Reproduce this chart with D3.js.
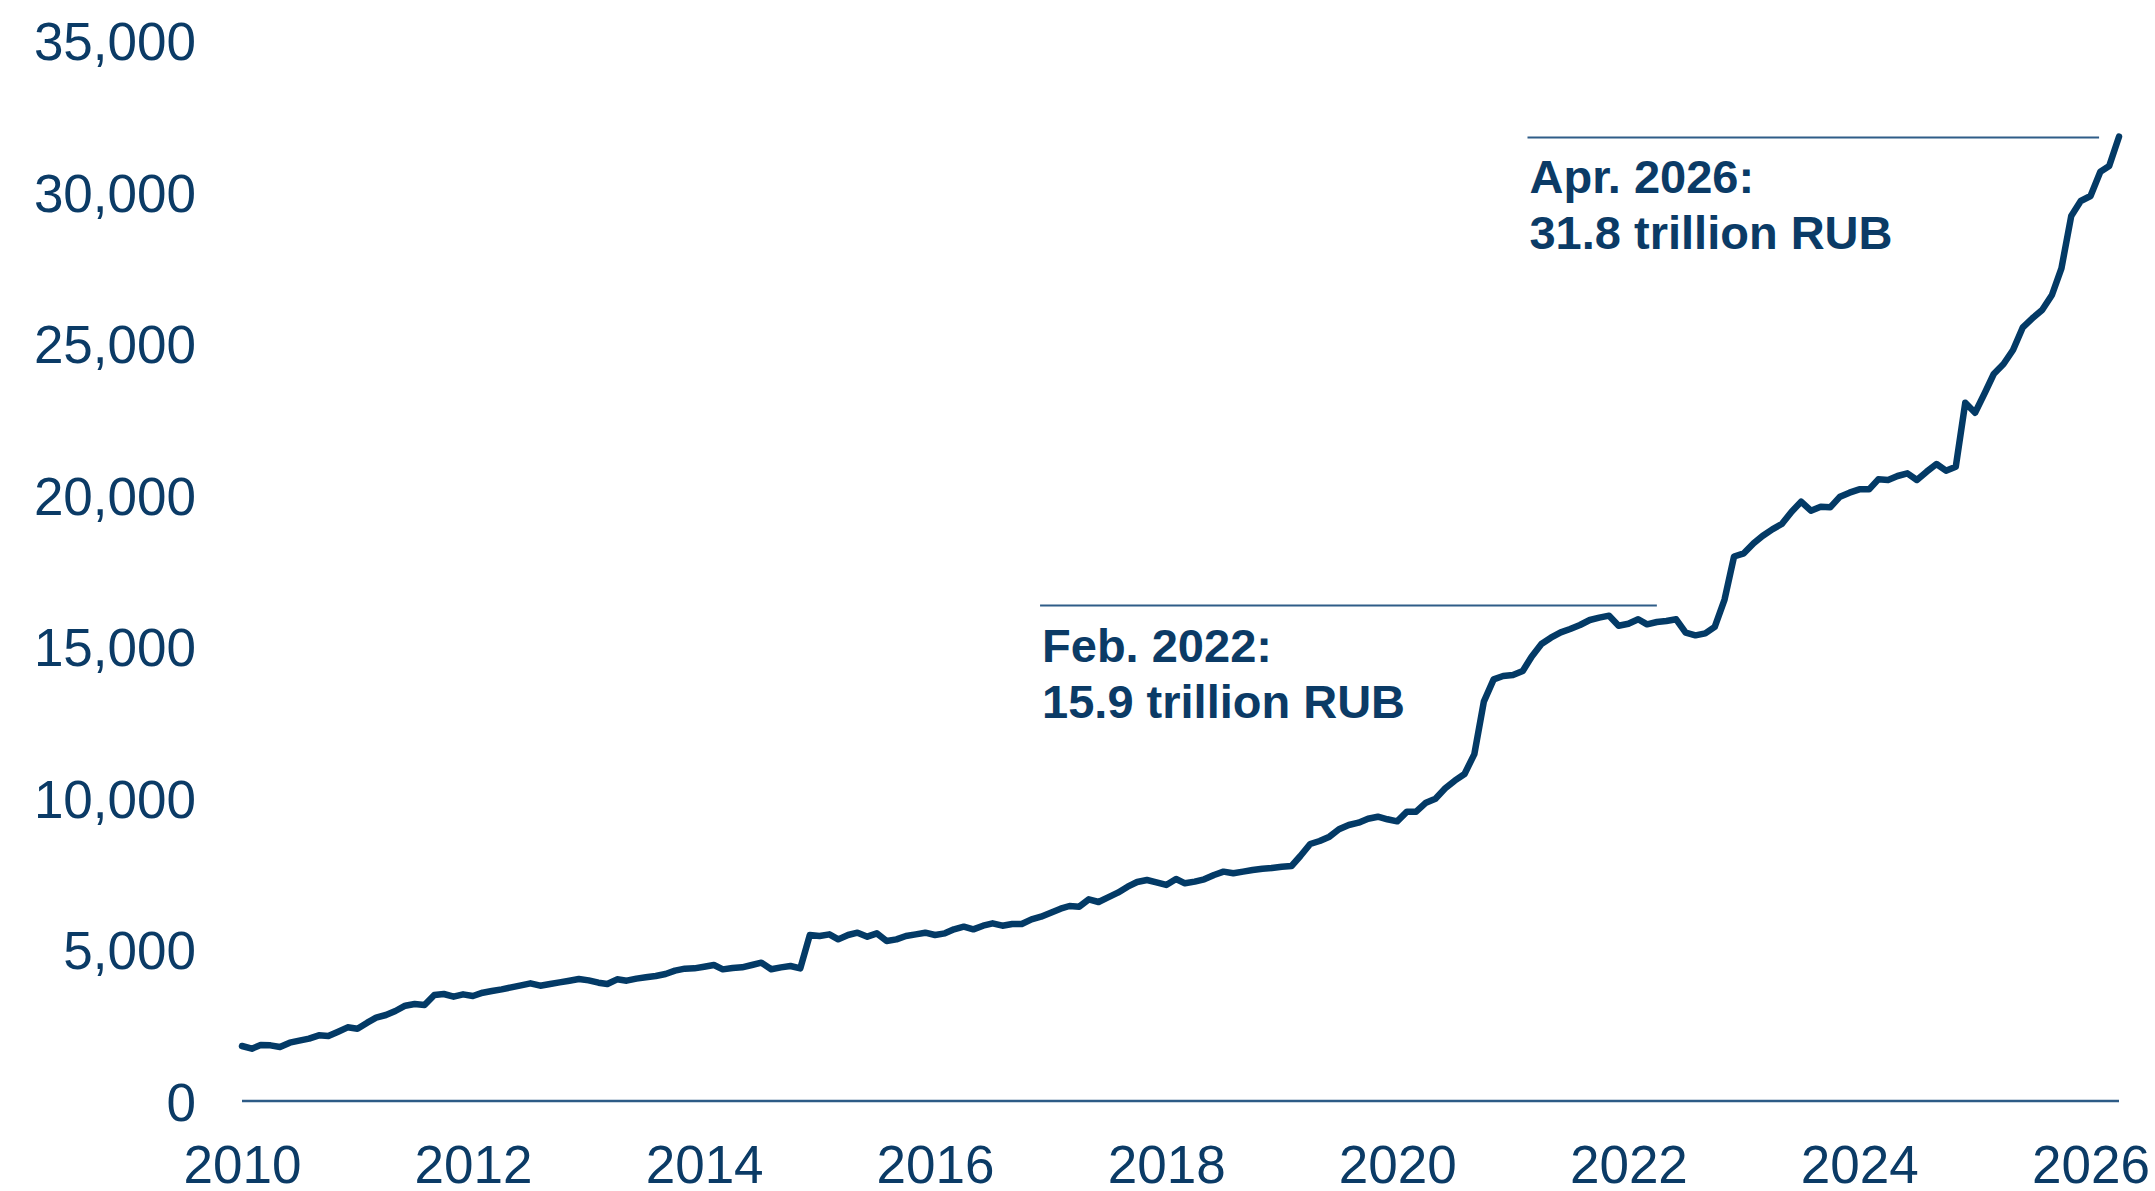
<!DOCTYPE html>
<html>
<head>
<meta charset="utf-8">
<script src="https://cdn.jsdelivr.net/npm/d3@7"></script>
<style>
  html, body { margin: 0; padding: 0; background: #fff; }
  svg { display: block; }
  .tick text { font-family: "Liberation Sans", Arial, sans-serif; font-size: 53px; fill: #0b3b66; }
  .note { font-family: "Liberation Sans", Arial, sans-serif; font-size: 47px; font-weight: bold; fill: #0b3b66; }
</style>
</head>
<body>
<script>
// monthly series, Jan 2010 .. Apr 2026 (billion RUB)
const startYear = 2010;
const values = [
  1815, 1727, 1848, 1837, 1782, 1925, 1991, 2057, 2167, 2145, 2288, 2431,   // 2010
  2387, 2585, 2750, 2838, 2970, 3146, 3201, 3168, 3498, 3531, 3443, 3520,   // 2011
  3465, 3575, 3630, 3685, 3751, 3817, 3883, 3806, 3861, 3916, 3971, 4026,   // 2012
  3980, 3905, 3861, 4016, 3971, 4038, 4082, 4125, 4191, 4301, 4367, 4378,   // 2013
  4433, 4488, 4345, 4389, 4411, 4488, 4565, 4350, 4411, 4455, 4378, 5478,   // 2014
  5445, 5500, 5335, 5478, 5555, 5423, 5533, 5280, 5335, 5445, 5500, 5555,   // 2015
  5478, 5533, 5665, 5753, 5665, 5786, 5863, 5786, 5841, 5841, 5995, 6083,   // 2016
  6215, 6347, 6436, 6413, 6656, 6568, 6722, 6876, 7073, 7228, 7294, 7218,   // 2017
  7129, 7327, 7184, 7239, 7316, 7459, 7569, 7514, 7569, 7624, 7667, 7690,   // 2018
  7733, 7756, 8086, 8482, 8581, 8724, 8967, 9109, 9185, 9317, 9383, 9297,   // 2019
  9230, 9549, 9549, 9846, 9978, 10319, 10572, 10792, 11450, 13179, 13916, 14026, // 2020
  14059, 14191, 14664, 15082, 15291, 15468, 15578, 15710, 15875, 15951, 16017, 15686, // 2021
  15752, 15900, 15732, 15808, 15841, 15897, 15456, 15369, 15435, 15650, 16550, 17970, // 2022
  18075, 18405, 18647, 18867, 19043, 19450, 19780, 19483, 19615, 19593, 19945, 20077, // 2023
  20187, 20187, 20517, 20495, 20627, 20715, 20495, 20770, 21023, 20803, 20935, 23046, // 2024
  22716, 23376, 23993, 24323, 24785, 25534, 25831, 26106, 26601, 27481, 29208, 29703, // 2025
  29868, 30671, 30858, 31825                                                   // 2026
];

const yTicks = [0, 5000, 10000, 15000, 20000, 25000, 30000, 35000];
const xTickYears = [2010, 2012, 2014, 2016, 2018, 2020, 2022, 2024, 2026];

// callouts: text lines, level of the rule, rule start / end date
const noteLines  = [["Feb. 2022:", "15.9 trillion RUB"], ["Apr. 2026:", "31.8 trillion RUB"]];
const noteLevels = [16350, 31800];
const noteFrom   = ["2016-11-28", "2021-02-16"];
const noteTo     = ["2022-04-01", "2026-01-28"];

const width  = 2155,
      height = 1191;

const data = values.map((v, i) => ({ date: new Date(startYear, i, 1), value: v }));
const parse = d3.timeParse('%Y-%m-%d');

const x = d3.scaleTime()
  .domain([data[0].date, data[data.length - 1].date])
  .range([242, 2119]);

const y = d3.scaleLinear()
  .domain([0, 35000])
  .range([1101, 40.5]);

const svg = d3.select('body').append('svg')
  .attr('width', width)
  .attr('height', height);

// y axis labels only
svg.append('g')
  .attr('transform', `translate(${x.range()[0] + 1},0)`)
  .call(d3.axisLeft(y).tickValues(yTicks).tickSize(0).tickPadding(47).tickFormat(d3.format(',')))
  .call(g => g.select('.domain').remove())
  .call(g => g.selectAll('text').attr('dy', '0.36em'));

// x axis labels
svg.append('g')
  .attr('transform', `translate(0,${y(0)})`)
  .call(d3.axisBottom(x).tickValues(xTickYears.map(yr => new Date(yr, 0, 1))).tickSize(0).tickPadding(44).tickFormat(d3.timeFormat('%Y')))
  .call(g => g.select('.domain').remove());

// zero line
svg.append('line')
  .attr('x1', x.range()[0]).attr('x2', x.range()[1])
  .attr('y1', y(0)).attr('y2', y(0))
  .attr('stroke', '#2d5b86')
  .attr('stroke-width', 2.5);

// callouts
noteLines.forEach((lines, i) => {
  const x1 = x(parse(noteFrom[i])),
        x2 = x(parse(noteTo[i])),
        yy = y(noteLevels[i]);

  svg.append('line')
    .attr('x1', x1).attr('x2', x2)
    .attr('y1', yy).attr('y2', yy)
    .attr('stroke', '#2f5d88')
    .attr('stroke-width', 2);

  const t = svg.append('text')
    .attr('class', 'note')
    .attr('x', x1 + 2)
    .attr('y', yy + 56);

  lines.forEach((s, k) => {
    t.append('tspan')
      .attr('x', x1 + 2)
      .attr('dy', k === 0 ? 0 : 56)
      .text(s);
  });
});

// series
const line = d3.line()
  .x(d => x(d.date))
  .y(d => y(d.value));

svg.append('path')
  .datum(data)
  .attr('fill', 'none')
  .attr('stroke', '#033a66')
  .attr('stroke-width', 6.5)
  .attr('stroke-linejoin', 'round')
  .attr('stroke-linecap', 'round')
  .attr('d', line);
</script>
</body>
</html>
